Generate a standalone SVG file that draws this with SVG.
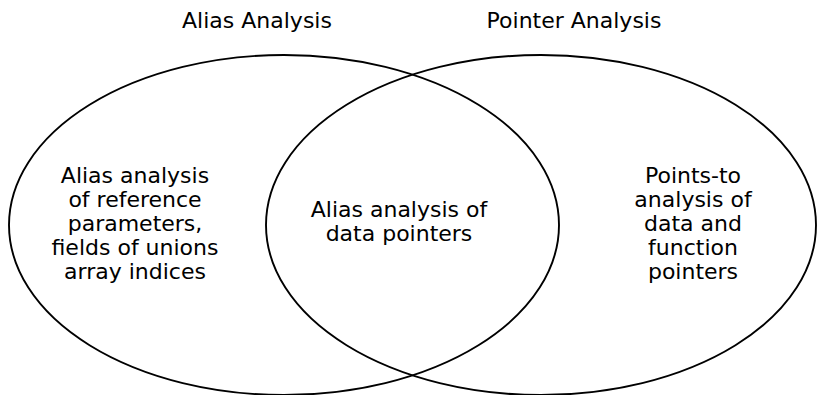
<svg xmlns="http://www.w3.org/2000/svg" width="817" height="395" viewBox="0 0 817 395">
<style>
.set{fill:none;stroke:#000;stroke-width:1.9}
text{font-family:"DejaVu Sans","Liberation Sans",sans-serif;font-size:22px;fill:#000;text-anchor:middle}
</style>
<rect width="817" height="395" fill="#fff"/>
<g id="alias-set">
<ellipse class="set" cx="284" cy="225" rx="275" ry="170"/>
<text x="257" y="28">Alias Analysis</text>
<text x="135" y="183">Alias analysis</text>
<text x="135" y="207">of reference</text>
<text x="135" y="231">parameters,</text>
<text x="135" y="255">fields of unions</text>
<text x="135" y="279">array indices</text>
</g>
<g id="pointer-set">
<ellipse class="set" cx="541" cy="225" rx="275" ry="170"/>
<text x="574" y="28">Pointer Analysis</text>
<text x="693" y="183">Points-to</text>
<text x="693" y="207">analysis of</text>
<text x="693" y="231">data and</text>
<text x="693" y="255">function</text>
<text x="693" y="279">pointers</text>
</g>
<g id="intersection">
<text x="399" y="217">Alias analysis of</text>
<text x="399" y="241">data pointers</text>
</g>
</svg>
